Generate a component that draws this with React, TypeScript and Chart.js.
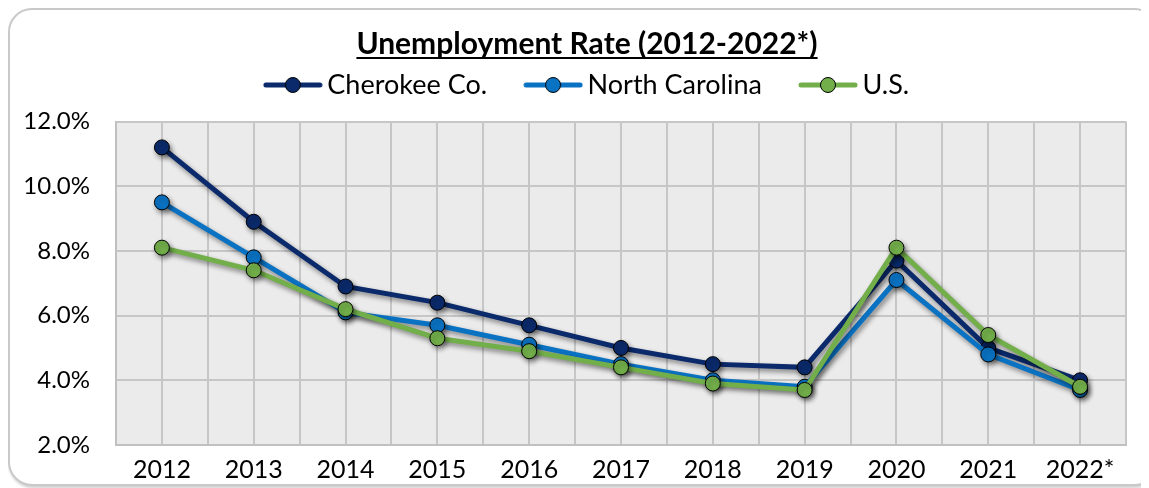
import React, { useEffect, useRef } from 'react';
import { Chart, registerables } from 'chart.js';

Chart.register(...registerables);

const categories = ['2012', '2013', '2014', '2015', '2016', '2017', '2018', '2019', '2020', '2021', '2022*'];
const cherokee = [11.2, 8.9, 6.9, 6.4, 5.7, 5.0, 4.5, 4.4, 7.7, 5.0, 4.0];
const northCarolina = [9.5, 7.8, 6.1, 5.7, 5.1, 4.5, 4.0, 3.8, 7.1, 4.8, 3.7];
const unitedStates = [8.1, 7.4, 6.2, 5.3, 4.9, 4.4, 3.9, 3.7, 8.1, 5.4, 3.8];
const seriesNames = ['Cherokee Co.', 'North Carolina', 'U.S.'];
const seriesColors = ['#0B2A6B', '#0A72C2', '#72AE4A'];
const yMin = 2;
const yMax = 12;
const yStep = 2;
const titleText = 'Unemployment Rate (2012-2022*)';

const FONT = 'Lato';
const TITLE_SIZE = 30;
const LEGEND_SIZE = 27;
const XTICK_SIZE = 25;
const YTICK_SIZE = 24;
const PSW = 49;
const TITLE_PAD_TOP = 18;

function makeLegendIcon(color: string): HTMLCanvasElement {
  const iw = PSW + 18;
  const ih = 20;
  const c = document.createElement('canvas');
  c.width = iw;
  c.height = ih;
  const g = c.getContext('2d') as CanvasRenderingContext2D;
  const end = iw - 1;
  const start = end - 58;
  g.strokeStyle = color;
  g.lineWidth = 5;
  g.lineCap = 'round';
  g.beginPath();
  g.moveTo(start + 2, ih / 2);
  g.lineTo(end - 2, ih / 2);
  g.stroke();
  g.beginPath();
  g.arc((start + end) / 2, ih / 2, 7.5, 0, Math.PI * 2);
  g.fillStyle = color;
  g.fill();
  g.lineWidth = 1;
  g.strokeStyle = '#000';
  g.stroke();
  return c;
}

const shadowPlugin = {
  id: 'lineShadow',
  beforeDatasetDraw(chart: any) {
    const ctx = chart.ctx;
    ctx.save();
    ctx.shadowColor = 'rgba(0,0,0,0.45)';
    ctx.shadowBlur = 5;
    ctx.shadowOffsetX = 2;
    ctx.shadowOffsetY = 3;
  },
  afterDatasetDraw(chart: any) {
    chart.ctx.restore();
  },
};

const underlinePlugin = {
  id: 'titleUnderline',
  afterDraw(chart: any) {
    const tb = chart.titleBlock;
    if (!tb) return;
    const ctx = chart.ctx;
    ctx.save();
    ctx.font = `bold ${TITLE_SIZE}px ${FONT}`;
    const w = ctx.measureText(titleText).width;
    const cx = (tb.left + tb.right) / 2;
    const cy = tb.top + TITLE_PAD_TOP + (TITLE_SIZE * 1.2) / 2;
    const y = cy + 14;
    ctx.strokeStyle = '#000';
    ctx.lineWidth = 2;
    ctx.beginPath();
    ctx.moveTo(cx - w / 2, y);
    ctx.lineTo(cx + w / 2, y);
    ctx.stroke();
    ctx.restore();
  },
};

export default function App() {
  const ref = useRef<HTMLCanvasElement | null>(null);

  useEffect(() => {
    document.body.style.overflow = 'hidden';
    document.documentElement.style.overflow = 'hidden';
    const canvas = ref.current;
    if (!canvas) return;
    const icons = seriesColors.map((c) => makeLegendIcon(c));
    const values = [cherokee, northCarolina, unitedStates];
    const chart = new Chart(canvas, {
      type: 'line',
      data: {
        labels: categories,
        datasets: values.map((v, i) => ({
          label: seriesNames[i],
          data: v,
          borderColor: seriesColors[i],
          backgroundColor: seriesColors[i],
          borderWidth: 5,
          pointRadius: 7.5,
          pointHoverRadius: 7.5,
          pointBackgroundColor: seriesColors[i],
          pointBorderColor: '#000',
          pointBorderWidth: 1,
          tension: 0,
          fill: false,
          order: 2 - i,
          xAxisID: 'x',
          yAxisID: 'y',
        })),
      },
      options: {
        animation: false,
        responsive: false,
        maintainAspectRatio: false,
        layout: { padding: 0 },
        plugins: {
          tooltip: { enabled: false },
          title: {
            display: true,
            text: titleText,
            color: '#000',
            font: { family: FONT, size: TITLE_SIZE, weight: 'bold', lineHeight: 1.2 },
            padding: { top: TITLE_PAD_TOP, bottom: -28.5 },
          },
          legend: {
            display: true,
            position: 'top',
            labels: {
              usePointStyle: true,
              pointStyleWidth: PSW,
              boxHeight: 14,
              padding: 38,
              color: '#000',
              font: { family: FONT, size: LEGEND_SIZE },
              generateLabels: (ch: any) =>
                ch.data.datasets.map((ds: any, i: number) => ({
                  text: ds.label,
                  pointStyle: icons[i],
                  fillStyle: seriesColors[i],
                  strokeStyle: seriesColors[i],
                  lineWidth: 0,
                  hidden: false,
                  datasetIndex: i,
                  fontColor: '#000',
                })),
            },
          },
        },
        scales: {
          x: {
            type: 'category',
            position: 'bottom',
            offset: true,
            grid: { display: true, offset: true, color: '#c6c6c6', lineWidth: 2, drawTicks: false },
            border: { display: true, color: '#c0c0c0', width: 2 },
            ticks: { color: '#000', padding: 10, font: { family: FONT, size: XTICK_SIZE } },
            afterFit: (s: any) => {
              s.height = 43;
            },
          },
          x2: {
            type: 'category',
            position: 'top',
            offset: true,
            labels: categories,
            grid: { display: true, offset: false, color: '#c6c6c6', lineWidth: 2, drawTicks: false },
            border: { display: false },
            ticks: { display: false },
            afterFit: (s: any) => {
              s.height = 13;
            },
          },
          y: {
            type: 'linear',
            position: 'left',
            min: yMin,
            max: yMax,
            ticks: {
              stepSize: yStep,
              color: '#000',
              padding: 26,
              font: { family: FONT, size: YTICK_SIZE },
              callback: (v: any) => Number(v).toFixed(1) + '%',
            },
            grid: { display: true, color: '#c6c6c6', lineWidth: 2, drawTicks: false },
            border: { display: true, color: '#c0c0c0', width: 2 },
            afterFit: (s: any) => {
              s.width = 108;
            },
          },
          y2: {
            type: 'linear',
            position: 'right',
            min: yMin,
            max: yMax,
            ticks: { display: false },
            grid: { display: false, drawTicks: false },
            border: { display: false },
            afterFit: (s: any) => {
              s.width = 40;
            },
          },
        },
      },
      plugins: [
        shadowPlugin,
        underlinePlugin,
        {
          id: 'plotBg',
          beforeDraw(ch: any) {
            const a = ch.chartArea;
            const ctx = ch.ctx;
            ctx.save();
            ctx.fillStyle = '#ebebeb';
            ctx.fillRect(a.left, a.top, a.right - a.left, a.bottom - a.top);
            ctx.restore();
          },
        },
      ],
    } as any);
    return () => chart.destroy();
  }, []);

  return (
    <div style={{ position: 'relative', width: 1158, height: 480 }}>
      <div
        style={{
          position: 'absolute',
          left: 0,
          top: 0,
          width: 1150,
          height: 478,
          boxSizing: 'border-box',
          border: '2px solid #c9c9c9',
          borderRadius: 24,
          background: '#fff',
          boxShadow: '1px 2px 3px rgba(0,0,0,0.2)',
        }}
      />
      <canvas ref={ref} width={1158} height={480} style={{ position: 'absolute', left: 0, top: 0 }} />
    </div>
  );
}
